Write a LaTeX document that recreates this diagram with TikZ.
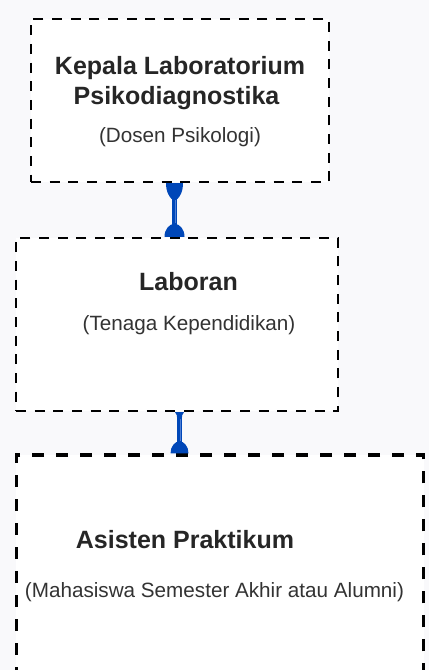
\documentclass[tikz,border=0pt]{standalone}
\usepackage{fontspec}
\setmainfont{Liberation Sans}
\usetikzlibrary{calc}
\definecolor{bgc}{HTML}{F9F9FB}
\definecolor{cblue}{HTML}{0047B8}
\definecolor{lblue}{HTML}{4F7FD4}
\definecolor{tdark}{HTML}{262626}
\definecolor{treg}{HTML}{333333}
\begin{document}
\begin{tikzpicture}[x=0.75pt,y=-0.75pt,
  boxa/.style={draw=black, fill=white, line width=1.7pt, dash pattern=on 7.5pt off 6.5pt, inner sep=0pt},
  boxc/.style={draw=black, fill=white, line width=2.5pt, dash pattern=on 9pt off 9pt, inner sep=0pt},
  ttl/.style={anchor=base, font=\bfseries\fontsize{18.75}{22}\selectfont, text=tdark, inner sep=0pt},
  sub/.style={anchor=base, font=\fontsize{15.5}{18}\selectfont, text=treg, inner sep=0pt},
  stem/.style={draw=cblue, line width=4pt},
  stemb/.style={draw=cblue, line width=3.5pt},
  shine/.style={draw=lblue, line width=0.6pt},
]
\useasboundingbox (0,0) rectangle (429,670);
\clip (0,0) rectangle (429,670);
\fill[bgc] (0,0) rectangle (429,670);

% boxes
\node[boxa, minimum width=223.5pt, minimum height=122.25pt] (b1) at (180,100.5) {};
\node[boxa, minimum width=241.5pt, minimum height=129.75pt] (b2) at (177,324.5) {};
\node[boxc, minimum width=305.5pt, minimum height=183.75pt] (b3) at (220,577.5) {};

% texts
\node[ttl] (t1a) at (180,75) {Kepala Laboratorium};
\node[ttl] (t1b) at (176.5,104.3) {Psikodiagnostika};
\node[sub] (t1c) at (180,143) {(Dosen Psikologi)};
\node[ttl] (t2a) at (188.5,290.7) {Laboran};
\node[sub] (t2b) at (189,330.7) {(Tenaga Kependidikan)};
\node[ttl] (t3a) at (185,548.3) {Asisten Praktikum};
\node[sub] (t3b) at (214.5,597) {(Mahasiswa Semester Akhir atau Alumni)};

% connector 1
\coordinate (k1) at (174.5,0);
\coordinate (c1s) at (b1.south -| k1);
\coordinate (c1e) at (b2.north -| k1);
\draw[stem] (c1s) -- (c1e);
\draw[shine] ($(c1s)+(1.3,17)$) -- ($(c1e)+(1.3,-14)$);
\fill[cblue, shift={(c1s)}] (-8.5,0) -- (8.5,0) .. controls (8.5,9) and (5,14) .. (2.7,16) -- (-2.7,16) .. controls (-5,14) and (-8.5,9) .. (-8.5,0) -- cycle;
\fill[cblue, shift={(c1e)}] (-10,0) .. controls (-10,-8) and (-5,-13) .. (0,-13) .. controls (5,-13) and (10,-8) .. (10,0) -- cycle;

% connector 2
\coordinate (k2) at (179.5,0);
\coordinate (c2s) at (b2.south -| k2);
\coordinate (c2e) at (b3.north -| k2);
\draw[stemb] (c2s) -- (c2e);
\draw[shine] ($(c2s)+(1.2,7)$) -- ($(c2e)+(1.2,-12)$);
\fill[cblue, shift={(c2s)}] (-4.5,0) -- (4.5,0) .. controls (2.6,2) and (2.3,4) .. (2.3,7) -- (-2.3,7) .. controls (-2.3,4) and (-2.6,2) .. (-4.5,0) -- cycle;
\fill[cblue, shift={(c2e)}] (-9,0) .. controls (-9,-7) and (-4.5,-12) .. (0,-12) .. controls (4.5,-12) and (9,-7) .. (9,0) -- cycle;
\end{tikzpicture}
\end{document}
